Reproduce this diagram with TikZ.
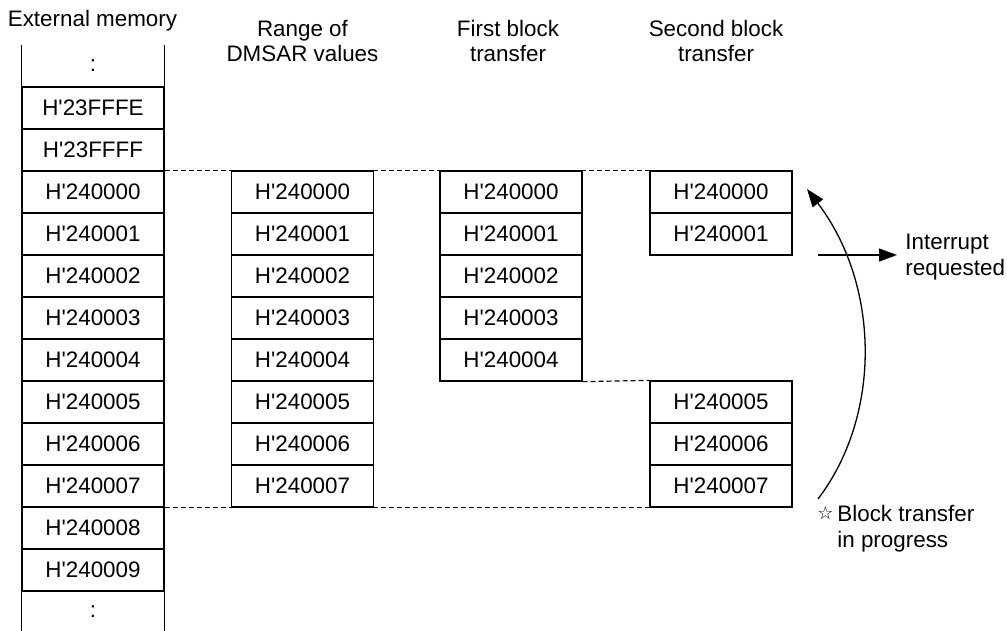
\documentclass[tikz,border=0pt]{standalone}
\usepackage{fontspec}
\setmainfont{Liberation Sans}
\newfontfamily\symfont{DejaVu Sans}
\usetikzlibrary{arrows.meta, positioning, calc}

\begin{document}
\begin{tikzpicture}[x=0.5pt, y=-0.5pt,
		font=\fontsize{11.2}{12.8}\selectfont,
		cell/.style={draw, line width=0.65pt, minimum width=71pt, minimum height=21pt, inner sep=0pt},
		opencell/.style={minimum width=71pt, minimum height=21pt, inner sep=0pt},
		guide/.style={line width=0.6pt, dash pattern=on 2.5pt off 1.5pt},
		head/.style={align=center, inner sep=0pt},
		tip/.style={line width=0.65pt, -{Triangle[length=9pt, width=6.5pt]}}]
	\useasboundingbox (0,0) rectangle (1007,631);
	
	% Headings
	\node[anchor=base] (hext) at (92.5,27) {External memory};
	\node[head] (hrng) at (302.5,41) {Range of\\DMSAR values};
	\node[head] (hfst) at (508,41) {First block\\transfer};
	\node[head] (hsnd) at (716,41) {Second block\\transfer};
	
	% External memory column
	\node[opencell] (emtop) at (93,66) {:};
	\draw[line width=0.65pt] (emtop.north west) -- (emtop.south west);
	\draw[line width=0.65pt] (emtop.north east) -- (emtop.south east);
	\foreach \lab [count=\k from 0] in {23FFFE,23FFFF,240000,240001,240002,240003,240004,240005,240006,240007,240008,240009}
		\node[cell] (em\k) at (93,108+42*\k) {H\textquotesingle\lab};
	\node[opencell] (embot) at (93,612) {:};
	\draw[line width=0.65pt] (embot.north west) -- (embot.south west);
	\draw[line width=0.65pt] (embot.north east) -- (embot.south east);
	
	% Range of DMSAR values
	\foreach \i in {0,...,7}
		\node[cell] (rg\i) at (302.5,192+42*\i) {H\textquotesingle24000\i};
	
	% First block transfer
	\foreach \i in {0,...,4}
		\node[cell] (fb\i) at (511,192+42*\i) {H\textquotesingle24000\i};
	
	% Second block transfer
	\foreach \i in {0,1,5,6,7}
		\node[cell] (sb\i) at (721,192+42*\i) {H\textquotesingle24000\i};
	
	% Dashed guides
	\draw[guide] (em2.north east) -- (sb0.north west);
	\draw[guide] (em9.south east) -- (sb7.south west);
	\draw[guide] (fb4.south east) -- (sb5.north west);
	
	% Interrupt request
	\coordinate (irqfrom) at (818,255);
	\node[align=left, anchor=west, inner xsep=4pt, inner ysep=0pt] (irq) at (897,257) {Interrupt\\requested};
	\draw[tip] (irqfrom) -- (irqfrom -| irq.west);
	
	% Block transfer in progress
	\node[align=left, anchor=west, inner sep=0pt] (bip) at (837,528.5)
		{\llap{\raisebox{1pt}{\symfont\fontsize{9}{9}\selectfont ☆}\hspace{2pt}}Block transfer\\in progress};
	\coordinate (bfrom) at (818,499);
	\coordinate (bto) at (807,189);
	\draw[tip] (bfrom) .. controls (882,415) and (880,285) .. (bto);
\end{tikzpicture}
\end{document}
